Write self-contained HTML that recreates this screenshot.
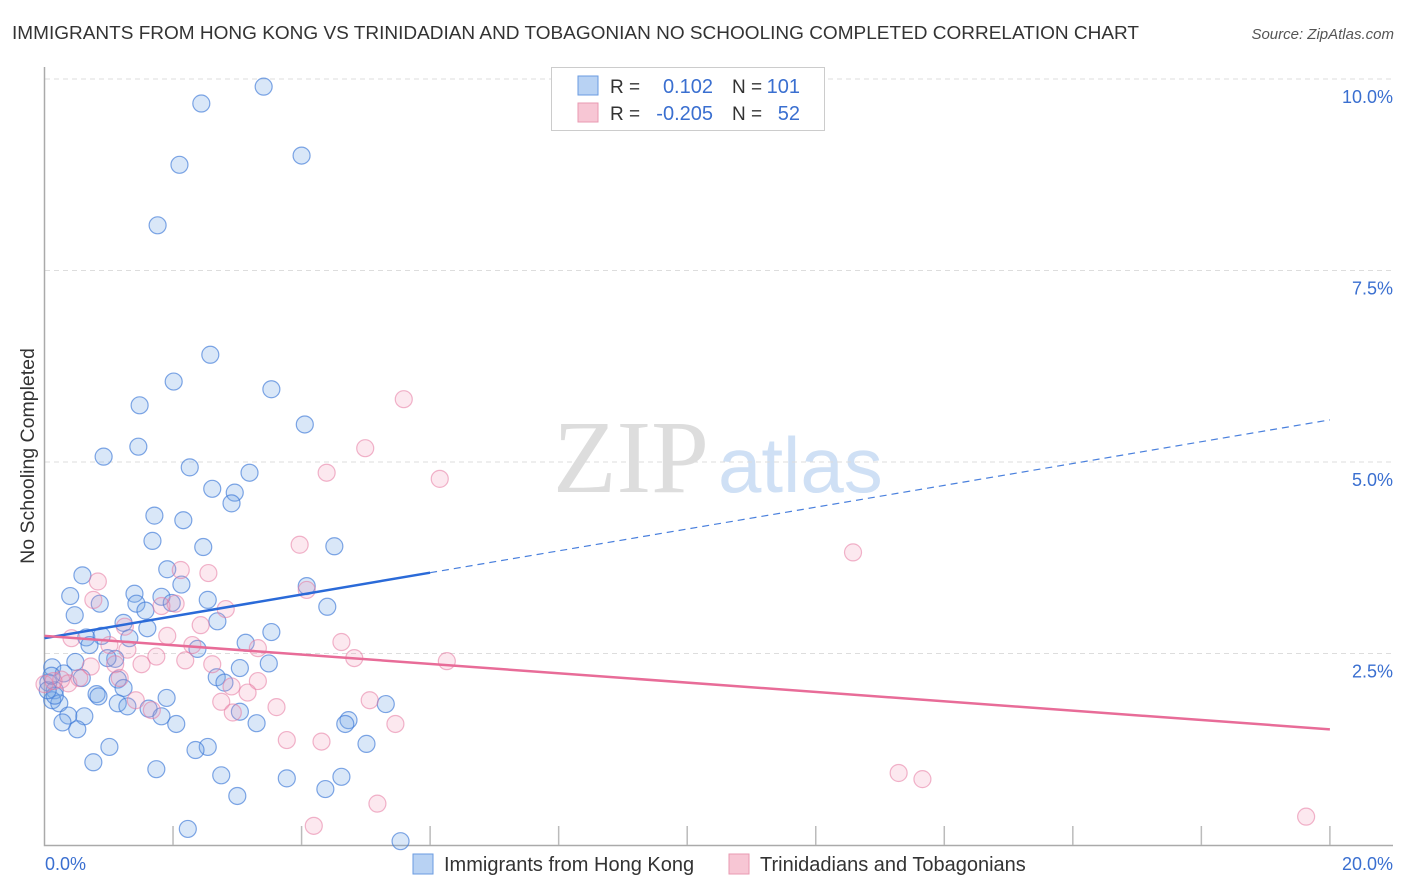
<!DOCTYPE html>
<html><head><meta charset="utf-8"><style>
body{margin:0;background:#fff;font-family:"Liberation Sans",sans-serif}
svg{display:block}
</style></head><body>
<svg id="chart" width="1406" height="892" xmlns="http://www.w3.org/2000/svg">
<text x="12" y="39" font-size="18.6" fill="#333" textLength="1127" lengthAdjust="spacingAndGlyphs">IMMIGRANTS FROM HONG KONG VS TRINIDADIAN AND TOBAGONIAN NO SCHOOLING COMPLETED CORRELATION CHART</text>
<text x="1394" y="39" font-size="15" fill="#555" font-style="italic" text-anchor="end">Source: ZipAtlas.com</text>
<text transform="translate(34,456) rotate(-90)" font-size="19.5" fill="#333" text-anchor="middle">No Schooling Completed</text>
<text x="553" y="492" font-size="104" fill="#ddd" font-family="Liberation Serif,serif">ZIP</text>
<text x="718" y="492" font-size="78" fill="#cfe0f5">atlas</text>
<g id="grid"></g><g id="pts"></g><g id="lines"></g>
<g>
<rect x="551.5" y="67.5" width="273" height="63" fill="#fff" stroke="#ccc"/>
<rect x="578" y="76" width="20" height="19" fill="#b8d2f3" stroke="#6a9be0"/>
<rect x="578" y="103" width="20" height="19" fill="#f7c6d4" stroke="#e89ab2"/>
<text x="610" y="93" font-size="19" fill="#333">R =</text><text x="713" y="93" font-size="20" fill="#3a6fd0" text-anchor="end">0.102</text>
<text x="732" y="93" font-size="19" fill="#333">N =</text><text x="800" y="93" font-size="20" fill="#3a6fd0" text-anchor="end">101</text>
<text x="610" y="120" font-size="19" fill="#333">R =</text><text x="713" y="120" font-size="20" fill="#3a6fd0" text-anchor="end">-0.205</text>
<text x="732" y="120" font-size="19" fill="#333">N =</text><text x="800" y="120" font-size="20" fill="#3a6fd0" text-anchor="end">52</text>
</g>
<g>
<rect x="413" y="854" width="20" height="20" fill="#b8d2f3" stroke="#6a9be0"/>
<text x="444" y="871" font-size="20" fill="#333">Immigrants from Hong Kong</text>
<rect x="729" y="854" width="20" height="20" fill="#f7c6d4" stroke="#e89ab2"/>
<text x="760" y="871" font-size="20" fill="#333">Trinidadians and Tobagonians</text>
</g>
</svg>
<script>
const xTicks=[0,2,4,6,8,10,12,14,16,18,20];
const yTicks=[2.5,5,7.5,10];
const yTickLabels=["2.5%","5.0%","7.5%","10.0%"];
const blueX=[3.41,2.44,4.0,2.1,1.76,2.58,2.01,3.53,1.48,4.05,1.46,0.92,2.26,3.19,2.61,2.96,2.91,1.71,2.16,1.68,2.47,4.51,0.59,1.91,2.13,4.08,0.40,1.40,1.82,1.98,1.43,0.86,2.54,4.4,1.57,0.47,2.69,1.23,1.6,0.65,0.89,1.32,3.53,3.13,0.70,2.38,1.1,0.98,0.48,0.12,3.49,3.04,0.30,2.68,1.14,0.58,2.8,0.06,1.23,0.16,0.81,0.84,1.9,1.14,0.12,0.23,1.29,5.31,1.62,3.04,0.37,1.82,0.62,4.73,0.28,2.05,3.3,4.68,0.51,1.01,2.54,2.35,5.01,0.76,1.74,2.75,3.77,4.62,4.37,3.0,2.23,5.54,0.16,0.05,0.11];
const blueY=[9.9,9.68,9.0,8.88,8.09,6.4,6.05,5.95,5.74,5.49,5.2,5.07,4.93,4.86,4.65,4.6,4.46,4.3,4.24,3.97,3.89,3.9,3.52,3.6,3.4,3.38,3.25,3.28,3.24,3.16,3.15,3.15,3.2,3.11,3.06,3.0,2.92,2.9,2.83,2.71,2.73,2.7,2.78,2.64,2.61,2.56,2.43,2.44,2.39,2.32,2.37,2.31,2.24,2.19,2.16,2.18,2.12,2.12,2.05,2.02,1.97,1.94,1.92,1.85,1.89,1.85,1.81,1.84,1.78,1.74,1.69,1.68,1.68,1.63,1.6,1.58,1.59,1.58,1.51,1.28,1.28,1.24,1.32,1.08,0.99,0.91,0.87,0.89,0.73,0.64,0.21,0.05,1.95,2.02,2.21];
const pinkX=[5.59,4.99,4.39,6.15,12.58,3.97,0.83,2.55,2.12,4.08,0.76,2.04,2.82,1.82,1.25,2.43,0.42,1.91,4.62,2.3,1.01,3.32,1.74,1.29,4.82,6.26,2.19,2.61,1.51,1.1,0.72,0.26,0.37,0.54,0.0,1.17,3.32,2.91,3.16,1.42,2.75,5.06,3.61,1.67,2.93,5.46,3.77,4.31,13.29,13.66,5.18,4.19,19.63,0.14];
const pinkY=[5.82,5.18,4.86,4.78,3.82,3.92,3.44,3.55,3.59,3.33,3.2,3.15,3.08,3.12,2.85,2.87,2.7,2.73,2.65,2.61,2.61,2.57,2.46,2.55,2.44,2.4,2.41,2.36,2.36,2.36,2.33,2.16,2.11,2.18,2.1,2.18,2.14,2.07,1.99,1.89,1.87,1.89,1.8,1.76,1.73,1.58,1.37,1.35,0.94,0.86,0.54,0.25,0.37,2.14];
const blueTrend=[2.70,5.55];
const pinkTrend=[2.73,1.51];
const NS="http://www.w3.org/2000/svg";
const sx=v=>44.5+v*64.27, sy=v=>845-v*76.6;
function mk(t,a,p){const e=document.createElementNS(NS,t);for(const k in a)e.setAttribute(k,a[k]);p.appendChild(e);return e;}
const grid=document.getElementById('grid');
yTicks.forEach((t,i)=>{
 const g=mk('line',{x1:45,x2:1392,y1:sy(t),y2:sy(t),stroke:'#ddd','stroke-dasharray':'5,4'},grid);
 
 
 const l=mk('text',{x:1393,y:sy(t)+24,'font-size':18,fill:'#3a6fd0','text-anchor':'end'},grid);
 l.textContent=yTickLabels[i];
 
 
});
const ax=mk('path',{d:'M44.5,67V845.5H1393',stroke:'#aaa',fill:'none','stroke-width':1.5},grid);


xTicks.forEach(t=>{if(t===0)return;
 const k=mk('line',{x1:sx(t),x2:sx(t),y1:826,y2:845,stroke:'#bbb','stroke-width':1.5},grid);
 
 
});
const xl0=mk('text',{x:45,y:870,'font-size':18,fill:'#3a6fd0'},grid);xl0.textContent='0.0%';


const xl1=mk('text',{x:1393,y:870,'font-size':18,fill:'#3a6fd0','text-anchor':'end'},grid);xl1.textContent='20.0%';


const pts=document.getElementById('pts');
blueX.forEach((x,i)=>{const c=mk('circle',{cx:sx(x),cy:sy(blueY[i]),r:8.5,fill:'rgba(120,170,230,0.28)',stroke:'rgba(60,120,215,0.65)','stroke-width':1.2},pts);
 
 });
pinkX.forEach((x,i)=>{const c=mk('circle',{cx:sx(x),cy:sy(pinkY[i]),r:8.5,fill:'rgba(240,150,180,0.22)',stroke:'rgba(230,120,160,0.55)','stroke-width':1.2},pts);
 
 });
const lines=document.getElementById('lines');
const bAt=x=>blueTrend[0]+(blueTrend[1]-blueTrend[0])*x/20;
const b1=mk('line',{x1:sx(0),y1:sy(bAt(0)),x2:sx(6),y2:sy(bAt(6)),stroke:'#2a6ad8','stroke-width':2.5},lines);


const b2=mk('line',{x1:sx(6),y1:sy(bAt(6)),x2:sx(20),y2:sy(bAt(20)),stroke:'#4a80dd','stroke-width':1.2,'stroke-dasharray':'7,5'},lines);


const p1=mk('line',{x1:sx(0),y1:sy(pinkTrend[0]),x2:sx(20),y2:sy(pinkTrend[1]),stroke:'#e86c98','stroke-width':2.5},lines);


</script>
</body></html>
